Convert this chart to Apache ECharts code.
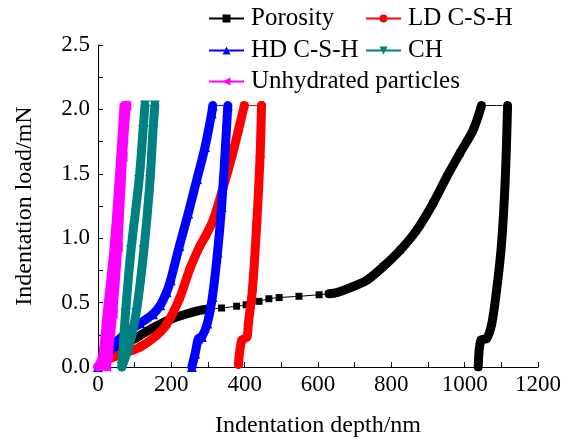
<!DOCTYPE html>
<html>
<head>
<meta charset="utf-8">
<script src="https://cdn.jsdelivr.net/npm/echarts@6/dist/echarts.min.js"></script>
<style>
html,body{margin:0;padding:0;background:#fff;}
#chart{width:575px;height:439px;}
</style>
</head>
<body>
<div id="chart"></div>
<script>
// ---- data: [depth (nm), load (mN)] ----
const porosityLoad = [[0,0],[5,0.005],[33,0.09],[60,0.16],[101,0.22],[123,0.26],[161,0.32],[205,0.378],[251,0.42],[278,0.44],[305,0.45],
  [337,0.458],[378,0.472],[404,0.483],[439,0.51],[466,0.53],[494,0.539],[548,0.549],[603,0.561],[630,0.569],
  [651,0.578],[687,0.615],[733,0.674],[777,0.777],[824,0.907],[869,1.062],[914,1.272],[951,1.476],[987,1.66],[1023,1.839],[1046,2.03]];
const porosityUnload = [[1117,2.03],[1113,1.632],[1107,1.243],[1099,0.906],[1087,0.596],[1074,0.337],[1060,0.221],[1044,0.207],[1037,0]];

const ldLoad = [[5,0],[33,0.065],[69,0.104],[115,0.155],[160,0.246],[187,0.33],[222,0.53],[251,0.765],[278,0.94],[292,1.01],[314,1.14],[342,1.399],[365,1.632],[383,1.839],[399,2.03]];
const ldUnload = [[446,2.03],[442,1.632],[433,1.114],[421,0.596],[410,0.337],[406,0.233],[392,0.207],[383,0.02]];

const hdLoad = [[0,0],[19,0.052],[42,0.17],[80,0.27],[115,0.34],[150,0.41],[170,0.48],[187,0.58],[198,0.674],[222,0.94],[246,1.192],[270,1.46],[292,1.709],[310,1.969],[313,2.03]];
const hdUnload = [[354,2.03],[346,1.632],[337,1.243],[326,0.89],[312,0.544],[298,0.337],[283,0.233],[274,0.221],[265,0.104],[256,0]];

const chLoad = [[65,0],[75,0.417],[90,0.907],[112,1.451],[123,1.84],[128,2.03]];
const chUnload = [[155,2.03],[150,1.84],[142,1.451],[125,0.907],[104,0.417],[85,0.169],[65,0]];

const unhLoad = [[0,0],[12,0.078],[25,0.415],[44,0.932],[62,1.632],[71,2.03]];
const unhUnload = [[77,2.03],[67,1.632],[54,0.932],[40,0.415],[27,0.078],[22,0]];

const seriesNames = ['Porosity','LD C-S-H','HD C-S-H','CH','Unhydrated particles'];
const xTickStep = 200, yTickStep = 0.5;

// ---- styling ----
const FONT = '"Liberation Serif", "Times New Roman", serif';
const colors = ['#000000','#ff0000','#0000ff','#008080','#ff00ff'];
const symbols = ['rect','circle','triangle','path://M0,0 L10,0 L5,10 Z','path://M0,5 L10,0 L10,10 Z'];
const symSizes = [7,9,10,10,10];
const BAND = 9;
const SMOOTH = 0.3;

function mainSeries(i, data){
  return {name: seriesNames[i], type:'line', data: data, color: colors[i],
    symbol: symbols[i], symbolSize: symSizes[i], showSymbol:true, smooth: SMOOTH,
    itemStyle:{color: colors[i]}, lineStyle:{width:1, color: colors[i]}, emphasis:{disabled:true}, z: 2 + i};
}
function band(i, data, k){
  return {name: '_band'+i+'_'+k, type:'line', data: data, symbol:'none', color: colors[i], smooth: SMOOTH,
    lineStyle:{width:BAND, color: colors[i], cap:'round', join:'round'}, emphasis:{disabled:true}, silent:true, z: 2 + i};
}

const series = [];
series.push(mainSeries(0, porosityLoad.concat(porosityUnload)));
series.push(band(0, porosityLoad.slice(0, 11), 'a'));
series.push(band(0, porosityLoad.slice(19), 'b'));
series.push(band(0, porosityUnload, 'c'));
[[ldLoad, ldUnload],[hdLoad, hdUnload],[chLoad, chUnload],[unhLoad, unhUnload]].forEach((p, j) => {
  const i = j + 1;
  series.push(band(i, p[0], 'l'));
  series.push(band(i, p[1], 'u'));
  series.push(mainSeries(i, p[0].concat(p[1])));
});

const legendPos = [[208,6],[365,6],[208,38],[365,38],[208,69]];
const legends = seriesNames.map((n, i) => ({
  data:[{name:n, textStyle:{fontFamily:FONT, fontSize:25, color:'#000'}}],
  left: legendPos[i][0], top: legendPos[i][1],
  itemWidth:35, itemHeight:10, padding:0, itemGap:0,
  textStyle:{fontFamily:FONT, fontSize:25, color:'#000', padding:[0,0,0,2]}
}));

const axisCommon = {
  axisLine:{show:true, lineStyle:{color:'#000', width:1}},
  axisTick:{show:true, inside:true, length:5, lineStyle:{color:'#000'}},
  minorTick:{show:true, splitNumber:2, length:5, lineStyle:{color:'#000'}},
  splitLine:{show:false},
  nameTextStyle:{fontFamily:FONT, fontSize:24, color:'#000'},
};

const option = {
  animation:false,
  backgroundColor:'#fff',
  textStyle:{fontFamily:FONT},
  grid:{left:98, right:37, top:45, bottom:72, containLabel:false, outerBoundsMode:'none'},
  legend: legends,
  xAxis: Object.assign({}, axisCommon, {type:'value', min:0, max:1200, interval:xTickStep,
    name:'Indentation depth/nm', nameLocation:'middle', nameGap:47,
    axisLabel:{fontFamily:FONT, fontSize:23, color:'#000', margin:6, formatter: v => String(v)}}),
  yAxis: Object.assign({}, axisCommon, {type:'value', min:0, max:2.5, interval:yTickStep,
    name:'Indentation load/mN', nameLocation:'middle', nameGap:61,
    axisLabel:{fontFamily:FONT, fontSize:23, color:'#000', margin:8, formatter: v => v.toFixed(1)}}),
  series: series
};

const chart = echarts.init(document.getElementById('chart'), null, {renderer:'canvas'});
chart.setOption(option);
</script>
</body>
</html>
